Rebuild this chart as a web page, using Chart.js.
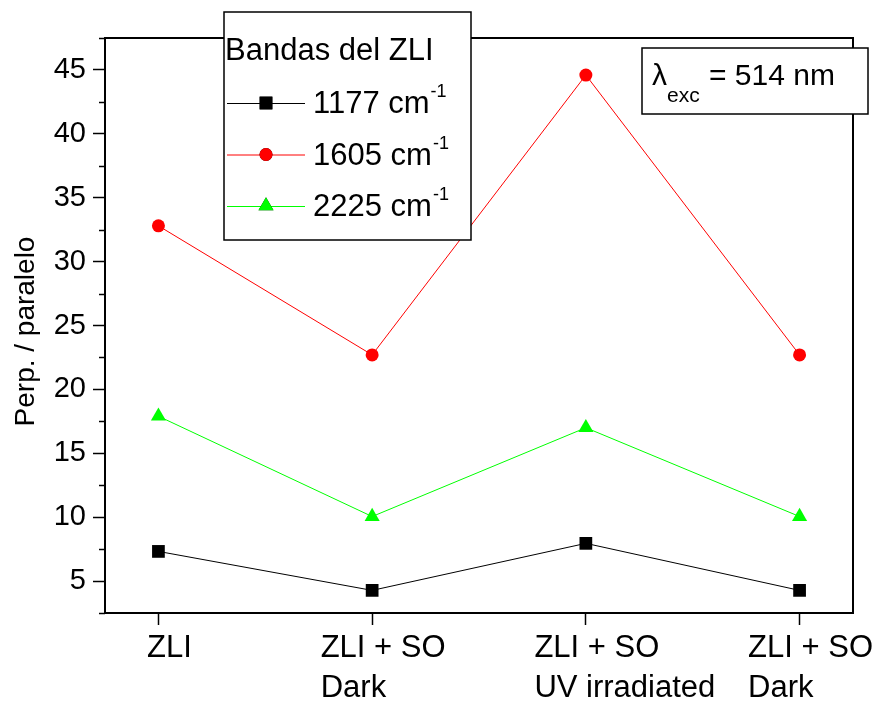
<!DOCTYPE html>
<html>
<head>
<meta charset="utf-8">
<script src="https://cdn.jsdelivr.net/npm/chart.js@4"></script>
<style>
    html, body { margin: 0; padding: 0; background: #fff; }
    #wrap { width: 880px; height: 701px; }
</style>
</head>
<body>
<div id="wrap"><canvas id="chart" width="880" height="701"></canvas></div>
<script>
// Categories (x axis), one label per sample
const categories = [
    ['ZLI'],
    ['ZLI + SO', 'Dark'],
    ['ZLI + SO', 'UV irradiated'],
    ['ZLI + SO', 'Dark']
];

// Perp. / paralelo ratio per band
const band1177 = [7.32, 4.27, 7.95, 4.27];
const band1605 = [32.8, 22.7, 44.6, 22.7];
const band2225 = [17.9, 10.05, 17.0, 10.05];

// Axis ticks
const xTicks = [0, 1, 2, 3];
const yTicks = [5, 10, 15, 20, 25, 30, 35, 40, 45];
const yMinorTicks = [2.5, 7.5, 12.5, 17.5, 22.5, 27.5, 32.5, 37.5, 42.5, 47.5];

const FONT = "'Liberation Sans', Arial, Helvetica, sans-serif";
Chart.defaults.font.family = FONT;
Chart.defaults.color = '#000';

function toPoints(values) {
    return values.map((v, i) => ({ x: xTicks[i], y: v }));
}

// Extra decorations: box frame, minor ticks, x labels, axis title, legend, note
const decorations = {
    id: 'decorations',
    afterDraw(chart) {
        const ctx = chart.ctx;
        const area = chart.chartArea;
        const xs = chart.scales.x;
        const ys = chart.scales.y;

        ctx.save();
        ctx.strokeStyle = '#000';
        ctx.lineWidth = 2;

        // top and right frame
        ctx.beginPath();
        ctx.moveTo(area.left, area.top);
        ctx.lineTo(area.right, area.top);
        ctx.lineTo(area.right, area.bottom);
        ctx.stroke();

        // minor y ticks
        ctx.lineWidth = 1.5;
        yMinorTicks.forEach(v => {
            const py = Math.round(ys.getPixelForValue(v)) + 0.5;
            ctx.beginPath();
            ctx.moveTo(area.left - 6, py);
            ctx.lineTo(area.left, py);
            ctx.stroke();
        });

        // x category labels (first line centred, second line left aligned)
        ctx.fillStyle = '#000';
        ctx.font = '31px ' + FONT;
        ctx.textBaseline = 'alphabetic';
        ctx.textAlign = 'left';
        categories.forEach((lines, i) => {
            const px = xs.getPixelForValue(xTicks[i]) + 11;
            const w = ctx.measureText(lines[0]).width;
            const left = px - w / 2;
            lines.forEach((line, j) => {
                ctx.fillText(line, left, 657 + j * 40);
            });
        });

        // y axis title
        ctx.save();
        ctx.translate(34, (area.top + area.bottom) / 2 + 6);
        ctx.rotate(-Math.PI / 2);
        ctx.textAlign = 'center';
        ctx.font = '28px ' + FONT;
        ctx.fillText('Perp. / paralelo', 0, 0);
        ctx.restore();

        // legend box
        ctx.fillStyle = '#fff';
        ctx.fillRect(224, 12, 247, 228);
        ctx.lineWidth = 1.5;
        ctx.strokeRect(224, 12, 247, 228);
        ctx.fillStyle = '#000';
        ctx.font = '31px ' + FONT;
        ctx.fillText('Bandas del ZLI', 225, 60);

        chart.data.datasets.forEach((ds, i) => {
            const cy = 103 + i * 51.5;
            ctx.strokeStyle = ds.borderColor;
            ctx.lineWidth = 1;
            ctx.beginPath();
            ctx.moveTo(227, cy + 0.5);
            ctx.lineTo(305, cy + 0.5);
            ctx.stroke();
            Chart.helpers.drawPoint(ctx, {
                pointStyle: ds.pointStyle,
                radius: ds.pointRadius,
                rotation: 0,
                borderWidth: 0
            }, 266, cy);
            ctx.fillStyle = ds.pointBackgroundColor;
            ctx.fill();

            ctx.fillStyle = '#000';
            ctx.font = '31px ' + FONT;
            const base = cy + 10;
            ctx.fillText(ds.label, 313, base);
            const w = ctx.measureText(ds.label).width;
            ctx.font = '18px ' + FONT;
            ctx.fillText('-1', 313 + w + 1, base - 16);
        });

        // excitation note
        ctx.fillStyle = '#fff';
        ctx.fillRect(642, 48, 226, 66);
        ctx.strokeStyle = '#000';
        ctx.lineWidth = 1.5;
        ctx.strokeRect(642, 48, 226, 66);
        ctx.fillStyle = '#000';
        ctx.font = '30px ' + FONT;
        let tx = 652;
        ctx.fillText('\u03bb', tx, 85);
        tx += ctx.measureText('\u03bb').width;
        ctx.font = '21px ' + FONT;
        ctx.fillText('exc', tx, 102);
        tx += ctx.measureText('exc').width;
        ctx.font = '30px ' + FONT;
        ctx.fillText(' = 514 nm', tx + 1, 85);

        ctx.restore();
    }
};

new Chart(document.getElementById('chart'), {
    type: 'line',
    data: {
        datasets: [{
            label: '1177 cm',
            data: toPoints(band1177),
            borderColor: '#000000',
            backgroundColor: '#000000',
            pointBackgroundColor: '#000000',
            pointStyle: 'rect',
            pointRadius: 9
        }, {
            label: '1605 cm',
            data: toPoints(band1605),
            borderColor: '#ff0000',
            backgroundColor: '#ff0000',
            pointBackgroundColor: '#ff0000',
            pointStyle: 'circle',
            pointRadius: 6.5
        }, {
            label: '2225 cm',
            data: toPoints(band2225),
            borderColor: '#00ff00',
            backgroundColor: '#00ff00',
            pointBackgroundColor: '#00ff00',
            pointStyle: 'triangle',
            pointRadius: 8.7
        }]
    },
    options: {
        responsive: false,
        animation: false,
        devicePixelRatio: 1,
        elements: {
            line: { borderWidth: 1, tension: 0 },
            point: { borderWidth: 0, hoverRadius: 0 }
        },
        layout: {
            padding: { top: 38, right: 27, left: 0, bottom: 0 }
        },
        plugins: {
            legend: { display: false },
            tooltip: { enabled: false }
        },
        scales: {
            x: {
                type: 'linear',
                min: -0.25,
                max: 3.25,
                afterBuildTicks: scale => {
                    scale.ticks = xTicks.map(v => ({ value: v }));
                },
                afterFit: scale => { scale.height = 88; },
                ticks: { display: false },
                grid: {
                    drawOnChartArea: false,
                    tickLength: 12,
                    tickWidth: 1.5,
                    tickColor: '#000'
                },
                border: { display: true, color: '#000', width: 2 }
            },
            y: {
                min: 2.5,
                max: 47.5,
                afterBuildTicks: scale => {
                    scale.ticks = yTicks.map(v => ({ value: v }));
                },
                afterFit: scale => { scale.width = 105; },
                ticks: {
                    font: { size: 29 },
                    color: '#000',
                    padding: 7
                },
                grid: {
                    drawOnChartArea: false,
                    tickLength: 12,
                    tickWidth: 1.5,
                    tickColor: '#000'
                },
                border: { display: true, color: '#000', width: 2 }
            }
        }
    },
    plugins: [decorations]
});
</script>
</body>
</html>
